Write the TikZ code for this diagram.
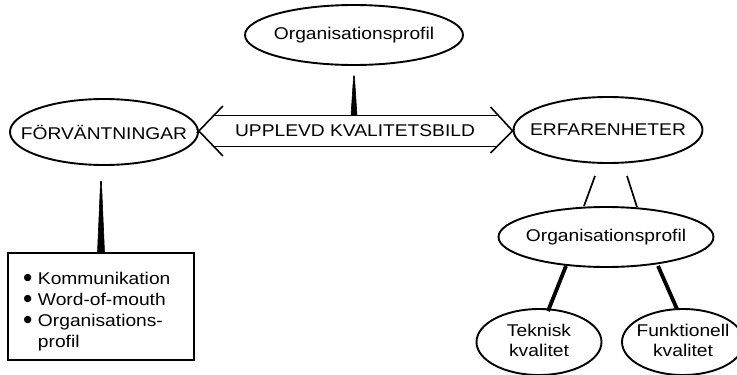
\documentclass[tikz,border=0pt]{standalone}
\usepackage{fontspec}
\setmainfont{Liberation Sans}[FakeStretch=1.13]
\newfontfamily\djv{DejaVu Sans}
\usetikzlibrary{shapes.geometric,calc}
\newcommand{\zw}[1]{\makebox[0pt]{#1}}
\newcommand{\bul}{{\djv\fontsize{9.5}{0}\selectfont\raisebox{3.8pt}{●}}}
\begin{document}
\begin{tikzpicture}[x=1pt,y=-1pt,
  txt/.style={font=\fontsize{17}{20}\selectfont},
  ell/.style={ellipse,draw,line width=1.9pt,inner sep=0pt,txt},
  thinln/.style={line width=1.7pt},
  thickln/.style={line width=3.8pt},
  shaft/.style={line width=1.6pt},
  spike/.style={fill=black,draw=black,line width=0.6pt,line join=round}]
\useasboundingbox (0,0) rectangle (737,375);
% nodes
\node[ell,minimum width=218pt,minimum height=60pt] (orgtop) at (354,35) {\zw{Organisationsprofil}};
\node[ell,minimum width=188pt,minimum height=66pt] (forv) at (104,132) {\zw{FÖRVÄNTNINGAR}};
\node[ell,minimum width=189pt,minimum height=66pt] (erf) at (608,130) {\zw{ERFARENHETER}};
\node[ell,minimum width=215pt,minimum height=60pt] (orgmid) at (606,237) {\zw{Organisationsprofil}};
\node[ell,minimum width=125pt,minimum height=66pt] (tek) at (539,342) {\zw{\begin{tabular}{@{}c@{}}Teknisk\\kvalitet\end{tabular}}};
\node[ell,minimum width=122pt,minimum height=66pt] (fun) at (683,342) {\zw{\begin{tabular}{@{}c@{}}Funktionell\\kvalitet\end{tabular}}};
\node[txt] (lbl) at (355,131) {UPPLEVD KVALITETSBILD};
\node[draw,line width=1.9pt,minimum width=186pt,minimum height=107pt,inner sep=0pt] (box) at (101,306.5) {};
\node[txt,anchor=base west,inner sep=0pt] (boxtext) at (23.5,284)
  {\fontsize{17}{21}\selectfont\begin{tabular}[t]{@{}l@{\hspace{6pt}}l@{}}\bul&Kommunikation\\\bul&Word-of-mouth\\\bul&Organisations-\\&profil\end{tabular}};
% double arrow
\coordinate (lt) at (forv.east |- lbl);
\coordinate (rt) at (erf.west |- lbl);
\draw[shaft] ($(lt)+(16,-15.5)$) -- ($(rt)+(-16,-15.5)$);
\draw[shaft] ($(lt)+(16,15.5)$) -- ($(rt)+(-16,15.5)$);
\draw[shaft] ($(lt)+(24,-25)$) -- ($(lt)+(-2,2)$);
\draw[shaft] ($(lt)+(24,25)$) -- ($(lt)+(-2,-2)$);
\draw[shaft] ($(rt)+(-22,-24)$) -- ($(rt)+(2,2)$);
\draw[shaft] ($(rt)+(-22,22)$) -- ($(rt)+(2,-2)$);
% spikes
\fill[spike] ($(orgtop.south)+(-0.4,10)$) -- ($(orgtop.south)+(0.4,10)$)
  -- ($(orgtop.south |- lbl)+(3,-15.5)$) -- ($(orgtop.south |- lbl)+(-3,-15.5)$) -- cycle;
\fill[spike] ($(box.north)+(-0.4,-71)$) -- ($(box.north)+(0.4,-71)$)
  -- ($(box.north)+(3.5,0)$) -- ($(box.north)+(-3.5,0)$) -- cycle;
% connectors
\draw[thinln] ($(erf.south)+(-13,12)$) -- ($(orgmid.north)+(-22,0)$);
\draw[thinln] ($(erf.south)+(19,12)$) -- ($(orgmid.north)+(31,1)$);
\draw[thickln] ($(orgmid.south)+(-40,-2)$) -- ($(tek.north)+(9,3)$);
\draw[thickln] ($(orgmid.south)+(52,-2)$) -- ($(fun.north)+(-6,1)$);
\end{tikzpicture}
\end{document}
